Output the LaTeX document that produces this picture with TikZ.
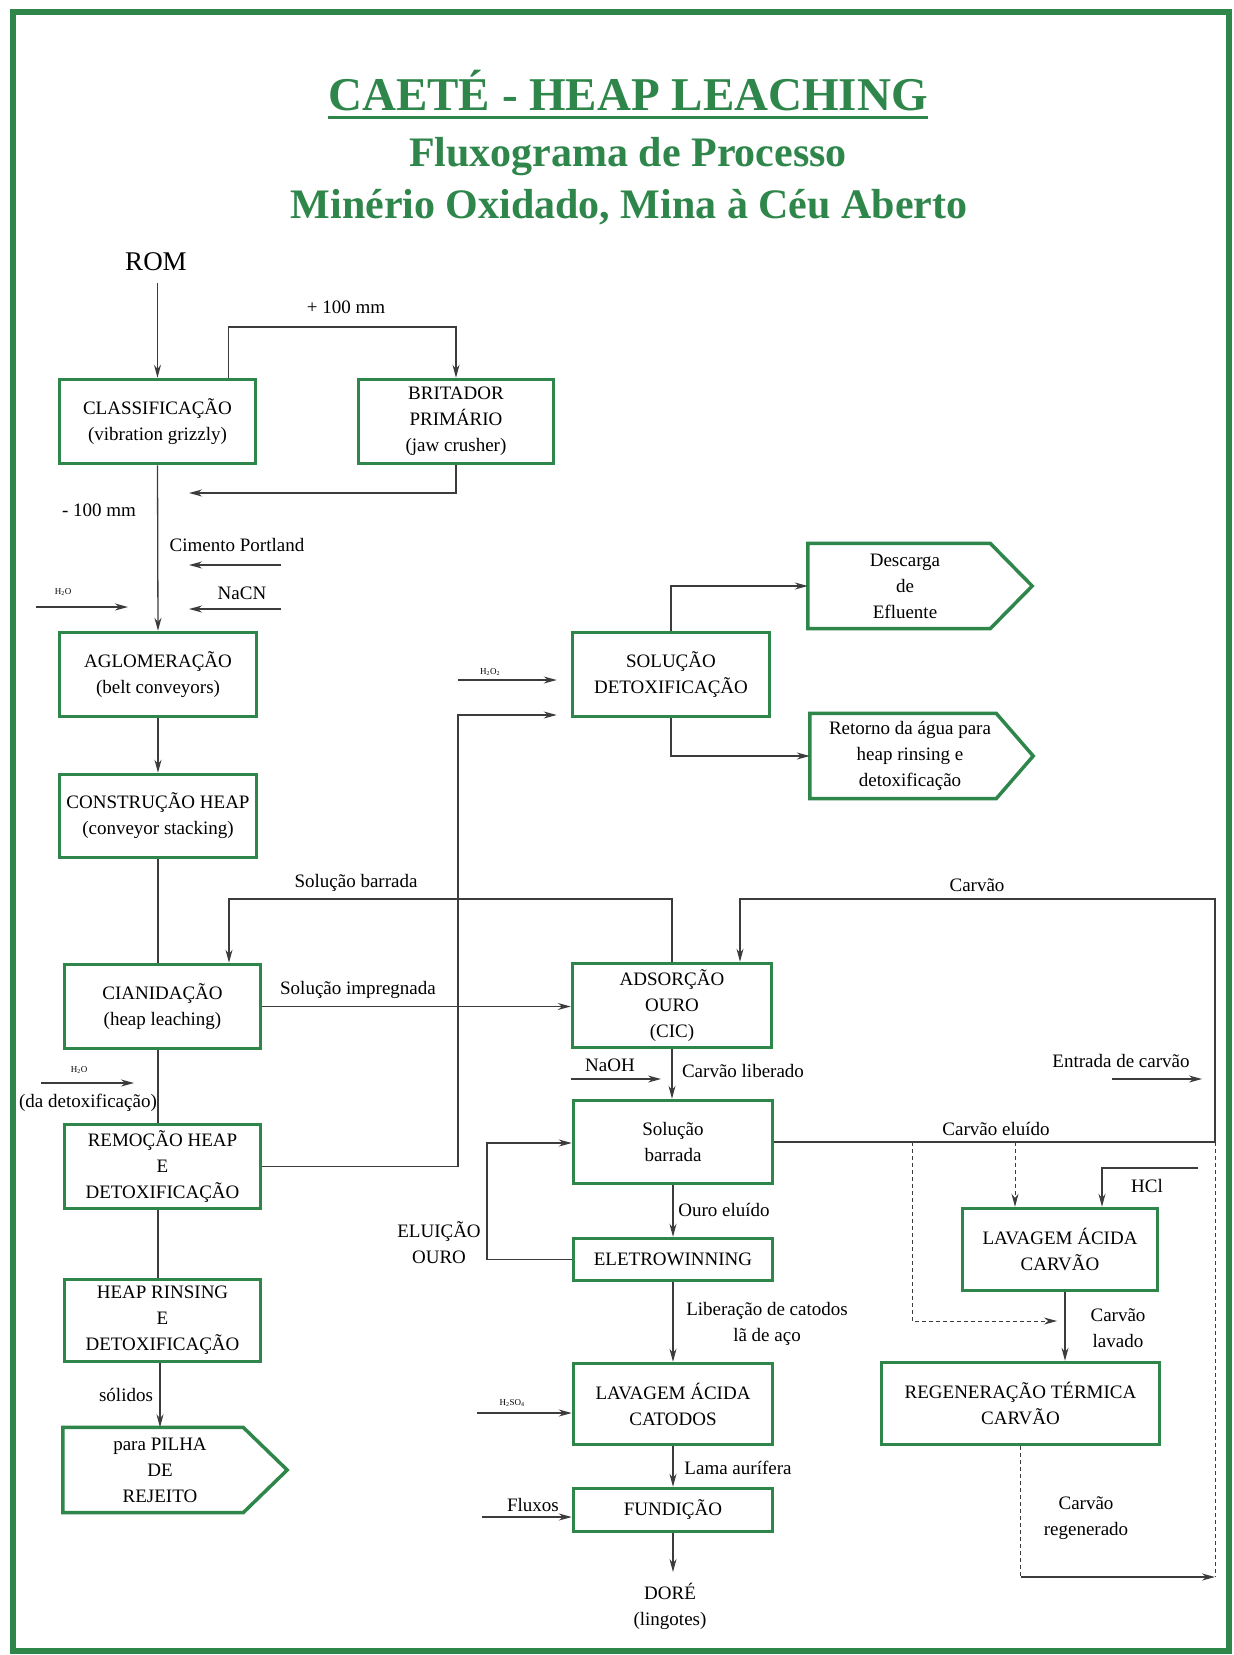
\documentclass[tikz,border=0pt]{standalone}
\usepackage{fontspec}
\setmainfont{Liberation Serif}
\usetikzlibrary{arrows.meta,calc}
\definecolor{grn}{RGB}{46,134,74}
\definecolor{ln}{RGB}{60,60,60}
\begin{document}
\begin{tikzpicture}[x=1pt,y=-1pt,
  box/.style={draw=grn, line width=3.5pt, minimum width=197pt, minimum height=83pt,
              align=center, inner sep=2pt, font=\fontsize{19}{26}\selectfont},
  body/.style={minimum width=194pt, minimum height=85pt, align=center, inner sep=2pt,
              font=\fontsize{19}{26}\selectfont},
  penta/.style={draw=grn, line width=3.5pt, line join=miter},
  lbl/.style={font=\fontsize{19}{26}\selectfont, align=center, inner sep=0pt},
  chem/.style={font=\fontsize{9}{10}\selectfont, inner sep=0pt},
  ttl/.style={font=\bfseries\fontsize{47}{50}\selectfont, text=grn, inner sep=0pt},
  subt/.style={font=\bfseries\fontsize{42}{45}\selectfont, text=grn, inner sep=0pt},
  con/.style={draw=ln, line width=1.3pt},
  arr/.style={con, -{Stealth[length=13pt,width=7pt]}},
  dsh/.style={draw=ln, line width=1pt, dash pattern=on 4pt off 3pt},
  darr/.style={dsh, -{Stealth[length=13pt,width=7pt]}},
]
\useasboundingbox (0,0) rectangle (1234,1655);
\fill[white] (0,0) rectangle (1234,1655);
\draw[grn, line width=6pt] (13,12) rectangle (1229,1651);

% ---------- titles
\node[ttl, anchor=base] (t1) at (628,110) {CAETÉ - HEAP LEACHING};
\draw[grn, line width=3pt] ($(t1.base west)+(0,7)$) -- ($(t1.base east)+(0,7)$);
\node[subt, anchor=base] (t2) at (628,166) {Fluxograma de Processo};
\node[subt, anchor=base] (t3) at (629,218) {Minério Oxidado, Mina à Céu Aberto};

% ---------- boxes
\node[box, minimum width=196pt, minimum height=84pt] (cls) at (157.5,421.5) {CLASSIFICAÇÃO\\(vibration grizzly)};
\node[box, minimum width=195pt, minimum height=84pt] (brit) at (456,421.5) {BRITADOR\\PRIMÁRIO\\(jaw crusher)};
\node[box, minimum height=84pt] (aglo) at (158,674.5) {AGLOMERAÇÃO\\(belt conveyors)};
\node[box, minimum height=83pt] (const) at (158,816) {CONSTRUÇÃO HEAP\\(conveyor stacking)};
\node[box, minimum width=196pt, minimum height=84pt] (cian) at (162.5,1006.5) {CIANIDAÇÃO\\(heap leaching)};
\node[box, minimum width=196pt, minimum height=84pt] (remo) at (162.5,1166.5) {REMOÇÃO HEAP\\E\\DETOXIFICAÇÃO};
\node[box, minimum width=196pt, minimum height=82pt] (rins) at (162.5,1320.5) {HEAP RINSING\\E\\DETOXIFICAÇÃO};

\node[body] (pilha) at (160,1470) {para PILHA\\DE\\REJEITO};
\draw[penta] (pilha.north west) -- ($(pilha.north east)+(-14,0)$) -- ($(pilha.east)+(30,0)$)
  -- ($(pilha.south east)+(-14,0)$) -- (pilha.south west) -- cycle;

\node[box, minimum height=84pt] (detox) at (671,674.5) {SOLUÇÃO\\DETOXIFICAÇÃO};

\node[body] (desc) at (905,586) {Descarga\\de\\Efluente};
\draw[penta] (desc.north west) -- ($(desc.north east)+(-12,0)$) -- ($(desc.east)+(30,0)$)
  -- ($(desc.south east)+(-12,0)$) -- (desc.south west) -- cycle;

\node[body, minimum width=200pt] (ret) at (910,756) {Retorno da água para\\heap rinsing e\\detoxificação};
\draw[penta] (ret.north west) -- ($(ret.north east)+(-14,0)$) -- ($(ret.east)+(23,0)$)
  -- ($(ret.south east)+(-14,0)$) -- (ret.south west) -- cycle;

\node[box, minimum width=199pt, minimum height=84pt] (ads) at (672,1005.5) {ADSORÇÃO\\OURO\\(CIC)};
\node[box, minimum width=199pt, minimum height=83pt] (solb) at (673,1142) {Solução\\barrada};
\node[box, minimum width=199pt, minimum height=42pt] (eletro) at (673,1259.5) {ELETROWINNING};
\node[box, minimum width=199pt, minimum height=81pt] (lavcat) at (673,1404) {LAVAGEM ÁCIDA\\CATODOS};
\node[box, minimum width=199pt, minimum height=43pt] (fund) at (673,1510) {FUNDIÇÃO};
\node[box, minimum width=195pt, minimum height=82pt] (lavcar) at (1060,1249.5) {LAVAGEM ÁCIDA\\CARVÃO};
\node[box, minimum width=278pt, minimum height=82pt] (regen) at (1020.5,1403.5) {REGENERAÇÃO TÉRMICA\\CARVÃO};

% ---------- labels
\node[lbl, font=\fontsize{27}{30}\selectfont] (rom) at (156,262) {ROM};
\node[lbl] (p100) at (346,307) {+ 100 mm};
\node[lbl] (m100) at (99,510) {- 100 mm};
\node[lbl] (cim) at (237,545) {Cimento Portland};
\node[lbl] (nacn) at (242,593) {NaCN};
\node[chem] (h2oa) at (63,592) {H\textsubscript{2}O};
\node[chem] (h2o2) at (490,672) {H\textsubscript{2}O\textsubscript{2}};
\node[lbl] (sbl) at (356,883) {Solução barrada};
\node[lbl] (sil) at (358,990) {Solução impregnada};
\node[lbl] (cvl) at (977,885) {Carvão};
\node[chem] (h2ob) at (79,1070) {H\textsubscript{2}O};
\node[lbl] (dadet) at (88,1103) {(da detoxificação)};
\node[lbl] (naoh) at (610,1065) {NaOH};
\node[lbl] (cli) at (743,1071) {Carvão liberado};
\node[lbl] (ent) at (1121,1061) {Entrada de carvão};
\node[lbl] (cel) at (996,1129) {Carvão eluído};
\node[lbl] (hcl) at (1147,1186) {HCl};
\node[lbl] (oel) at (724,1210) {Ouro eluído};
\node[lbl] (elu) at (439,1243) {ELUIÇÃO\\OURO};
\node[lbl] (lib) at (767,1324) {Liberação de catodos\\lã de aço};
\node[lbl] (clav) at (1118,1328) {Carvão\\lavado};
\node[chem] (h2so4) at (512,1403) {H\textsubscript{2}SO\textsubscript{4}};
\node[lbl] (sol) at (126,1395) {sólidos};
\node[lbl] (lama) at (738,1468) {Lama aurífera};
\node[lbl] (flx) at (533,1505) {Fluxos};
\node[lbl] (creg) at (1086,1518) {Carvão\\regenerado};
\node[lbl] (dore) at (670,1606) {DORÉ\\(lingotes)};

% ---------- coordinates for free ends
\coordinate (rom0) at (157.5,283);
\coordinate (ret1) at (189,493);
\coordinate (cimA) at (281,565);
\coordinate (cimB) at (189,565);
\coordinate (nacA) at (281,609);
\coordinate (nacB) at (189,609);
\coordinate (h2oA) at (36,607);
\coordinate (h2oB) at (128,607);
\coordinate (sb1) at (229,899);
\coordinate (h2obA) at (41,1083);
\coordinate (h2obB) at (134,1083);
\coordinate (rd1) at (458,715);
\coordinate (h2o2A) at (458,680);
\coordinate (cvR) at (1215,899);
\coordinate (cvL) at (740,899);
\coordinate (entA) at (1112,1079);
\coordinate (entB) at (1202,1079);
\coordinate (naA) at (571,1079);
\coordinate (naB) at (661,1079);
\coordinate (dA) at (912,1142);
\coordinate (dB) at (1057,1321);
\coordinate (dC) at (1015,1142);
\coordinate (rgE) at (1215,1577);
\coordinate (hclA) at (1198,1168);
\coordinate (hclB) at (1102,1168);
\coordinate (el1) at (487,1143);
\coordinate (soA) at (477,1413);
\coordinate (flA) at (482,1517);
\coordinate (doreA) at (673,1572);

% ---------- connectors
\draw[arr] (rom0) -- (cls.north);
\draw[arr] ($(cls.north)+(71,0)$) |- (456,327) -- (brit.north);
\draw[arr] (brit.south) |- (ret1);
\draw[arr] (cls.south) -- (aglo.north);
\draw[arr] (cimA) -- (cimB);
\draw[arr] (nacA) -- (nacB);
\draw[arr] (h2oA) -- (h2oB);
\draw[arr] (aglo.south) -- (const.south |- aglo.south) -- (const.north);
\draw[con] (const.south) -- (const.south |- cian.north);
\draw[arr] (ads.north) |- (sb1) -- (sb1 |- cian.north);
\draw[arr] (cian.east) -- (cian.east -| ads.west);
\draw[con] (const.south |- cian.south) -- (const.south |- remo.north);
\draw[arr] (h2obA) -- (h2obB);
\draw[arr, shorten >=14pt] (remo.east) -| (rd1) -- (rd1 -| detox.west);
\draw[arr, shorten >=14pt] (h2o2A) -- (h2o2A -| detox.west);
\draw[arr] (detox.north) |- (desc.west);
\draw[arr] (detox.south) |- (ret.west);
\draw[con] (const.south |- remo.south) -- (const.south |- rins.north);
\draw[arr] (pilha.north |- rins.south) -- (pilha.north);
\draw[arr] (solb.east) -- (solb.east -| cvR) -- (cvR) -- (cvL) -- (cvL |- ads.north);
\draw[arr] (entA) -- (entB);
\draw[arr] (naA) -- (naB);
\draw[arr] (ads.south) -- (ads.south |- solb.north);
\draw[darr] (dA) |- (dB);
\draw[darr] (dC) -- (dC |- lavcar.north);
\draw[dsh] (solb.east -| rgE) -- (rgE);
\draw[arr] (hclA) -- (hclB) -- (hclB |- lavcar.north);
\draw[arr] ([xshift=5pt]lavcar.south) -- ([xshift=5pt]lavcar.south |- regen.north);
\draw[dsh] (regen.south) -- (regen.south |- rgE);
\draw[arr] (regen.south |- rgE) -- (rgE);
\draw[arr] (solb.south) -- (solb.south |- eletro.north);
\draw[arr] (eletro.west) -| (el1) -- (el1 -| solb.west);
\draw[arr] (eletro.south) -- (eletro.south |- lavcat.north);
\draw[arr] (soA) -- (soA -| lavcat.west);
\draw[arr] (lavcat.south) -- (lavcat.south |- fund.north);
\draw[arr] (flA) -- (flA -| fund.west);
\draw[arr] (fund.south) -- (doreA);
\end{tikzpicture}
\end{document}
